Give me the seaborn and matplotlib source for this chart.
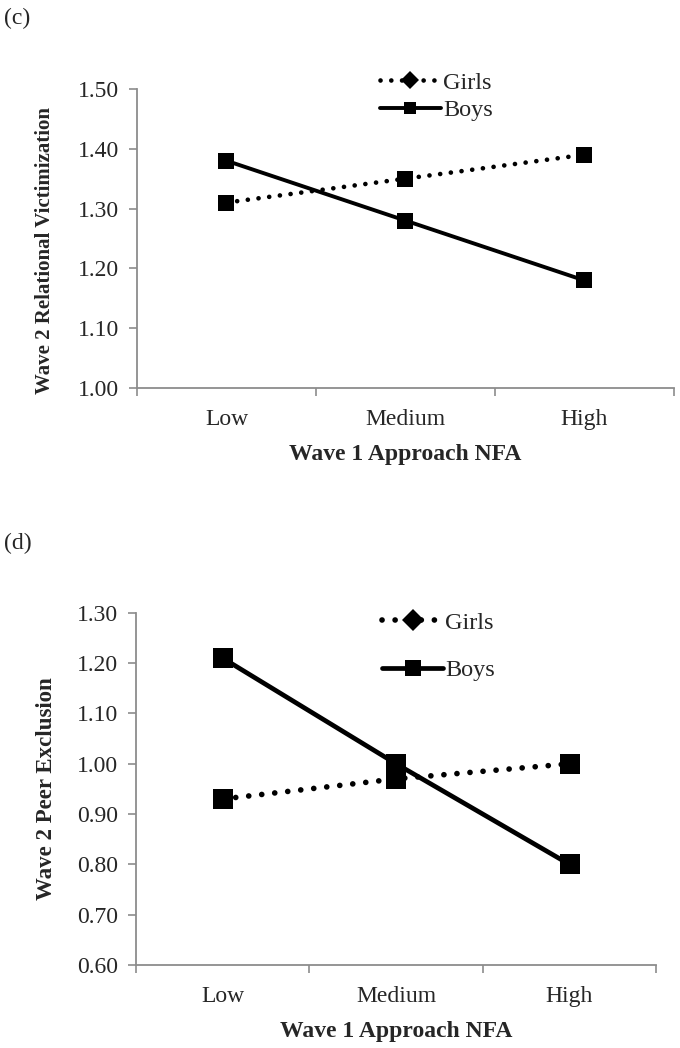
import matplotlib
matplotlib.use("Agg")
import matplotlib.pyplot as plt
import seaborn as sns
import pandas as pd
from matplotlib.lines import Line2D

# data
levels = ["Low", "Medium", "High"]
girls_c = [1.31, 1.35, 1.39]
boys_c = [1.38, 1.28, 1.18]
girls_d = [0.93, 0.97, 1.00]
boys_d = [1.21, 1.00, 0.80]

sns.set_style("white")
plt.rcParams['font.family'] = ['Liberation Serif', 'DejaVu Serif']

GRAY = "#8c8c8c"
DOT = (0, (0.01, 2.3))


def panel(ax, girls, boys, ylim, yticks, ylabel, ylab_size, ylab_pos, msize, lw,
          leg_anchor, leg_spacing):
    df = pd.DataFrame({"level": levels * 2,
                       "value": girls + boys,
                       "sex": ["Girls"] * 3 + ["Boys"] * 3})
    g = df[df.sex == "Girls"]
    b = df[df.sex == "Boys"]
    sns.lineplot(data=g, x="level", y="value", sort=False, ax=ax, color="black",
                 marker="s", markersize=msize, linewidth=lw * 1.2, linestyle=DOT,
                 dash_capstyle="round", markeredgewidth=0)
    sns.lineplot(data=b, x="level", y="value", sort=False, ax=ax, color="black",
                 marker="s", markersize=msize, linewidth=lw, markeredgewidth=0)

    ax.set_xlim(-0.5, 2.5)
    ax.set_ylim(*ylim)
    ax.set_yticks(yticks)
    ax.set_yticklabels(["%.2f" % v for v in yticks])
    ax.set_xticks([0, 1, 2])
    ax.set_xticklabels(levels)
    ax.set_xticks([-0.5, 0.5, 1.5, 2.5], minor=True)
    ax.tick_params(axis="x", which="major", length=0, pad=15, labelsize=17)
    ax.tick_params(axis="x", which="minor", length=6, width=1.2, color=GRAY,
                   direction="out", bottom=True)
    ax.tick_params(axis="y", length=6, width=1.2, color=GRAY, direction="out",
                   left=True, pad=7, labelsize=17)
    for s in ["top", "right"]:
        ax.spines[s].set_visible(False)
    for s in ["left", "bottom"]:
        ax.spines[s].set_color(GRAY)
        ax.spines[s].set_linewidth(1.3)

    ax.set_xlabel("Wave 1 Approach NFA", fontsize=17, fontweight="bold", labelpad=10)
    ax.set_ylabel(ylabel, fontsize=ylab_size, fontweight="bold")
    ax.yaxis.set_label_coords(-0.152, ylab_pos)

    handles = [
        Line2D([], [], color="black", linestyle=DOT, dash_capstyle="round",
               linewidth=lw * 1.2, marker="D", markersize=msize * 0.8, markeredgewidth=0),
        Line2D([], [], color="black", linewidth=lw, marker="s",
               markersize=msize * 0.85, markeredgewidth=0),
    ]
    ax.legend(handles, ["Girls", "Boys"], loc="center left", bbox_to_anchor=leg_anchor,
              frameon=False, fontsize=17.5, handlelength=2.5, handletextpad=0.1,
              labelspacing=leg_spacing, borderpad=0)


fig = plt.figure(figsize=(6.8, 10.48), dpi=100)
ax1 = fig.add_axes([0.2015, 0.6298, 0.789, 0.2853])
ax2 = fig.add_axes([0.2, 0.0792, 0.765, 0.336])

panel(ax1, girls_c, boys_c, (1.0, 1.5), [1.0, 1.1, 1.2, 1.3, 1.4, 1.5],
      "Wave 2 Relational Victimization", 15, 0.46, 11, 2.8, (0.43, 0.975), 0.22)
panel(ax2, girls_d, boys_d, (0.6, 1.3), [0.6, 0.7, 0.8, 0.9, 1.0, 1.1, 1.2, 1.3],
      "Wave 2 Peer Exclusion", 16.5, 0.5, 14, 3.4, (0.45, 0.905), 1.05)

fig.text(0.006, 1 - 18 / 1048, "(c)", fontsize=17, va="center", ha="left")
fig.text(0.006, 1 - 543 / 1048, "(d)", fontsize=17, va="center", ha="left")

fig.savefig("out.png", dpi=100, facecolor="white")
